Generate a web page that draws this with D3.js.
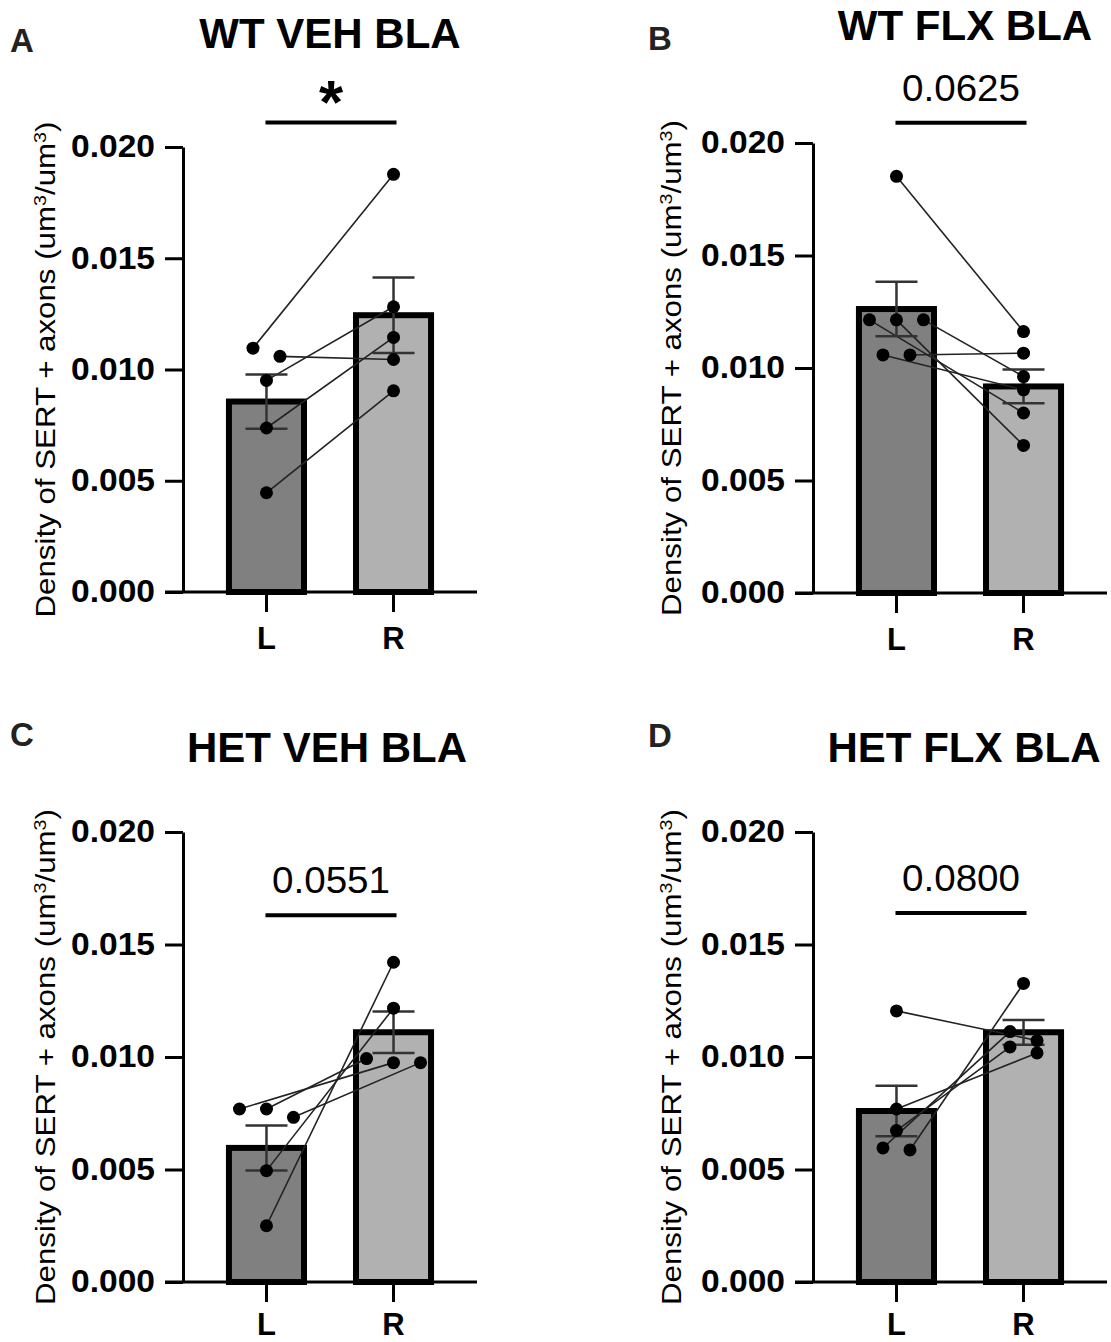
<!DOCTYPE html>
<html>
<head>
<meta charset="utf-8">
<script src="https://cdn.jsdelivr.net/npm/d3@7/dist/d3.min.js"></script>
<style>
  body { margin: 0; background: #fff; }
  text { font-family: "Liberation Sans", Arial, sans-serif; }
</style>
</head>
<body>
<script>
// ---- data ----
const categories = ["L", "R"];
const yTicks = [0, 0.005, 0.010, 0.015, 0.020];
const panelLetters = ["A", "B", "C", "D"];
const panelTitles = ["WT VEH BLA", "WT FLX BLA", "HET VEH BLA", "HET FLX BLA"];
const sigLabels = ["*", "0.0625", "0.0551", "0.0800"];
const sigLevels = [0.0211, 0.0209, 0.0163, 0.0164];

// paired animals: index i of the L array goes with index i of the R array
const wtVehL = [0.01096, 0.01059, 0.00951, 0.00737, 0.00446];
const wtVehR = [0.01877, 0.01045, 0.01282, 0.01144, 0.00904];
const wtFlxL = [0.01852, 0.01214, 0.01214, 0.01214, 0.01058, 0.01058];
const wtFlxR = [0.01162, 0.00800, 0.00656, 0.00962, 0.00903, 0.01066];
const hetVehL = [0.00769, 0.00769, 0.00732, 0.00495, 0.00250];
const hetVehR = [0.00975, 0.00993, 0.00975, 0.01217, 0.01421];
const hetFlxL = [0.01205, 0.00769, 0.00673, 0.00596, 0.00587];
const hetFlxR = [0.01073, 0.01018, 0.01045, 0.01113, 0.01327];

// bar heights (mean) and error bars (SEM), L then R
const barMeans = [[0.00856, 0.01244], [0.01262, 0.00918], [0.00596, 0.01110], [0.00760, 0.01110]];
const barSems  = [[0.00122, 0.00170], [0.00121, 0.00075], [0.00100, 0.00092], [0.00112, 0.00055]];

const pointsL = [wtVehL, wtFlxL, hetVehL, hetFlxL];
const pointsR = [wtVehR, wtFlxR, hetVehR, hetFlxR];

// ---- layout ----
const layout = [
  {ax: 183, top: 147, bottom: 592, titleX: 330, titleY: 48, letterX: 10, letterY: 52, labelX: 55, xPad: 15},
  {ax: 813, top: 143, bottom: 593, titleX: 965, titleY: 40, letterX: 648, letterY: 50, labelX: 681, xPad: 15},
  {ax: 183, top: 832, bottom: 1282, titleX: 327, titleY: 762, letterX: 10, letterY: 746, labelX: 55, xPad: 11},
  {ax: 813, top: 832, bottom: 1282, titleX: 964, titleY: 762, letterX: 648, letterY: 747, labelX: 681, xPad: 11}
];
const fills = ["#808080", "#b1b1b1"];

const svg = d3.select("body").append("svg")
    .attr("width", 1111)
    .attr("height", 1342);

// spread points that sit at nearly the same height into a centred row
function spread(vals, y, minDist, step) {
  const idx = d3.range(vals.length).sort((a, b) => d3.descending(vals[a], vals[b]) || a - b);
  const off = new Array(vals.length).fill(0);
  let row = [];
  const flush = () => { row.forEach((k, j) => off[k] = (j - (row.length - 1) / 2) * step); row = []; };
  idx.forEach(k => {
    if (row.length && y(vals[k]) - y(vals[row[0]]) >= minDist) flush();
    row.push(k);
  });
  flush();
  return off;
}

layout.forEach(function (p, i) {
  const g = svg.append("g");

  const y = d3.scaleLinear().domain([0, 0.02]).range([p.bottom, p.top]);
  const x = d3.scaleBand().domain(categories).range([p.ax, p.ax + 294])
              .paddingInner(0.362).paddingOuter(0.338);
  const bw = x.bandwidth();
  const cx = c => x(c) + bw / 2;

  // panel letter and title
  g.append("text")
   .attr("x", p.letterX).attr("y", p.letterY)
   .attr("font-size", "33px").attr("font-weight", "bold").attr("fill", "#222")
   .text(panelLetters[i]);

  g.append("text")
   .attr("x", p.titleX).attr("y", p.titleY)
   .attr("text-anchor", "middle")
   .attr("font-size", "42px").attr("font-weight", "bold")
   .text(panelTitles[i]);

  // bars
  g.append("g").selectAll("rect").data(categories)
   .enter().append("rect")
   .attr("x", c => x(c) + 3)
   .attr("width", bw - 6)
   .attr("y", (c, j) => y(barMeans[i][j]))
   .attr("height", (c, j) => y(0) - y(barMeans[i][j]))
   .attr("fill", (c, j) => fills[j])
   .attr("stroke", "black")
   .attr("stroke-width", 6);

  // axes
  const yAxis = g.append("g")
   .attr("transform", "translate(" + p.ax + ",0)")
   .call(d3.axisLeft(y).tickValues(yTicks).tickFormat(d3.format(".3f"))
           .tickSize(18).tickSizeOuter(0).tickPadding(10));
  const xAxis = g.append("g")
   .attr("transform", "translate(0," + p.bottom + ")")
   .call(d3.axisBottom(x).tickSize(20).tickSizeOuter(0).tickPadding(p.xPad));

  [yAxis, xAxis].forEach(a => {
    a.select(".domain").attr("stroke-width", 3);
    a.selectAll(".tick line").attr("stroke-width", 3);
    a.selectAll("text").attr("font-size", "31px").attr("font-weight", "bold")
     .attr("font-family", "Liberation Sans, Arial, sans-serif").attr("fill", "black");
  });
  yAxis.selectAll("text").attr("textLength", 84).attr("lengthAdjust", "spacingAndGlyphs");
  xAxis.select(".domain").attr("d", "M" + (p.ax - 18) + ",0H" + (p.ax + 294));

  // y label
  const lab = g.append("text")
   .attr("transform", "translate(" + p.labelX + "," + ((p.top + p.bottom) / 2) + ") rotate(-90)")
   .attr("text-anchor", "middle")
   .attr("font-family", "Roboto, 'Liberation Sans', sans-serif")
   .attr("font-weight", 500)
   .attr("font-size", "27px")
   .attr("textLength", 496).attr("lengthAdjust", "spacingAndGlyphs");
  lab.append("tspan").text("Density of SERT + axons (um");
  lab.append("tspan").attr("baseline-shift", "super").attr("font-size", "17px").text("3");
  lab.append("tspan").text("/um");
  lab.append("tspan").attr("baseline-shift", "super").attr("font-size", "17px").text("3");
  lab.append("tspan").text(")");

  // paired points
  const L = pointsL[i], R = pointsR[i];
  const offL = spread(L, y, 13, 27), offR = spread(R, y, 13, 27);
  const pairs = L.map((v, k) => ({
    x1: cx("L") + offL[k], y1: y(v),
    x2: cx("R") + offR[k], y2: y(R[k])
  }));

  g.append("g").selectAll("line").data(pairs)
   .enter().append("line")
   .attr("x1", d => d.x1).attr("y1", d => d.y1)
   .attr("x2", d => d.x2).attr("y2", d => d.y2)
   .attr("stroke", "#222").attr("stroke-width", 1.6);

  // error bars (mean +/- SEM)
  const eb = g.append("g").attr("stroke", "#333").attr("stroke-width", 2.5);
  categories.forEach((c, j) => {
    const m = barMeans[i][j], s = barSems[i][j];
    eb.append("line").attr("x1", cx(c)).attr("x2", cx(c)).attr("y1", y(m - s)).attr("y2", y(m + s));
    [m - s, m + s].forEach(v => {
      eb.append("line").attr("x1", cx(c) - 21).attr("x2", cx(c) + 21).attr("y1", y(v)).attr("y2", y(v));
    });
  });

  const pts = [];
  L.forEach((v, k) => pts.push({x: cx("L") + offL[k], y: y(v)}));
  R.forEach((v, k) => pts.push({x: cx("R") + offR[k], y: y(v)}));
  g.append("g").selectAll("circle").data(pts)
   .enter().append("circle")
   .attr("cx", d => d.x).attr("cy", d => d.y).attr("r", 6.5)
   .attr("fill", "black");

  // significance bracket
  const sy = y(sigLevels[i]);
  g.append("line")
   .attr("x1", cx("L") - 1).attr("x2", cx("R") + 3)
   .attr("y1", sy).attr("y2", sy)
   .attr("stroke", "black").attr("stroke-width", 4);
  const st = g.append("text")
   .attr("x", (cx("L") + cx("R")) / 2 + 1)
   .attr("text-anchor", "middle")
   .text(sigLabels[i]);
  if (sigLabels[i] === "*") {
    st.attr("y", sy).attr("font-size", "62px").attr("font-weight", "bold");
  } else {
    st.attr("y", sy - 22).attr("font-size", "36px")
      .attr("textLength", 118).attr("lengthAdjust", "spacingAndGlyphs");
  }
});
</script>
</body>
</html>
